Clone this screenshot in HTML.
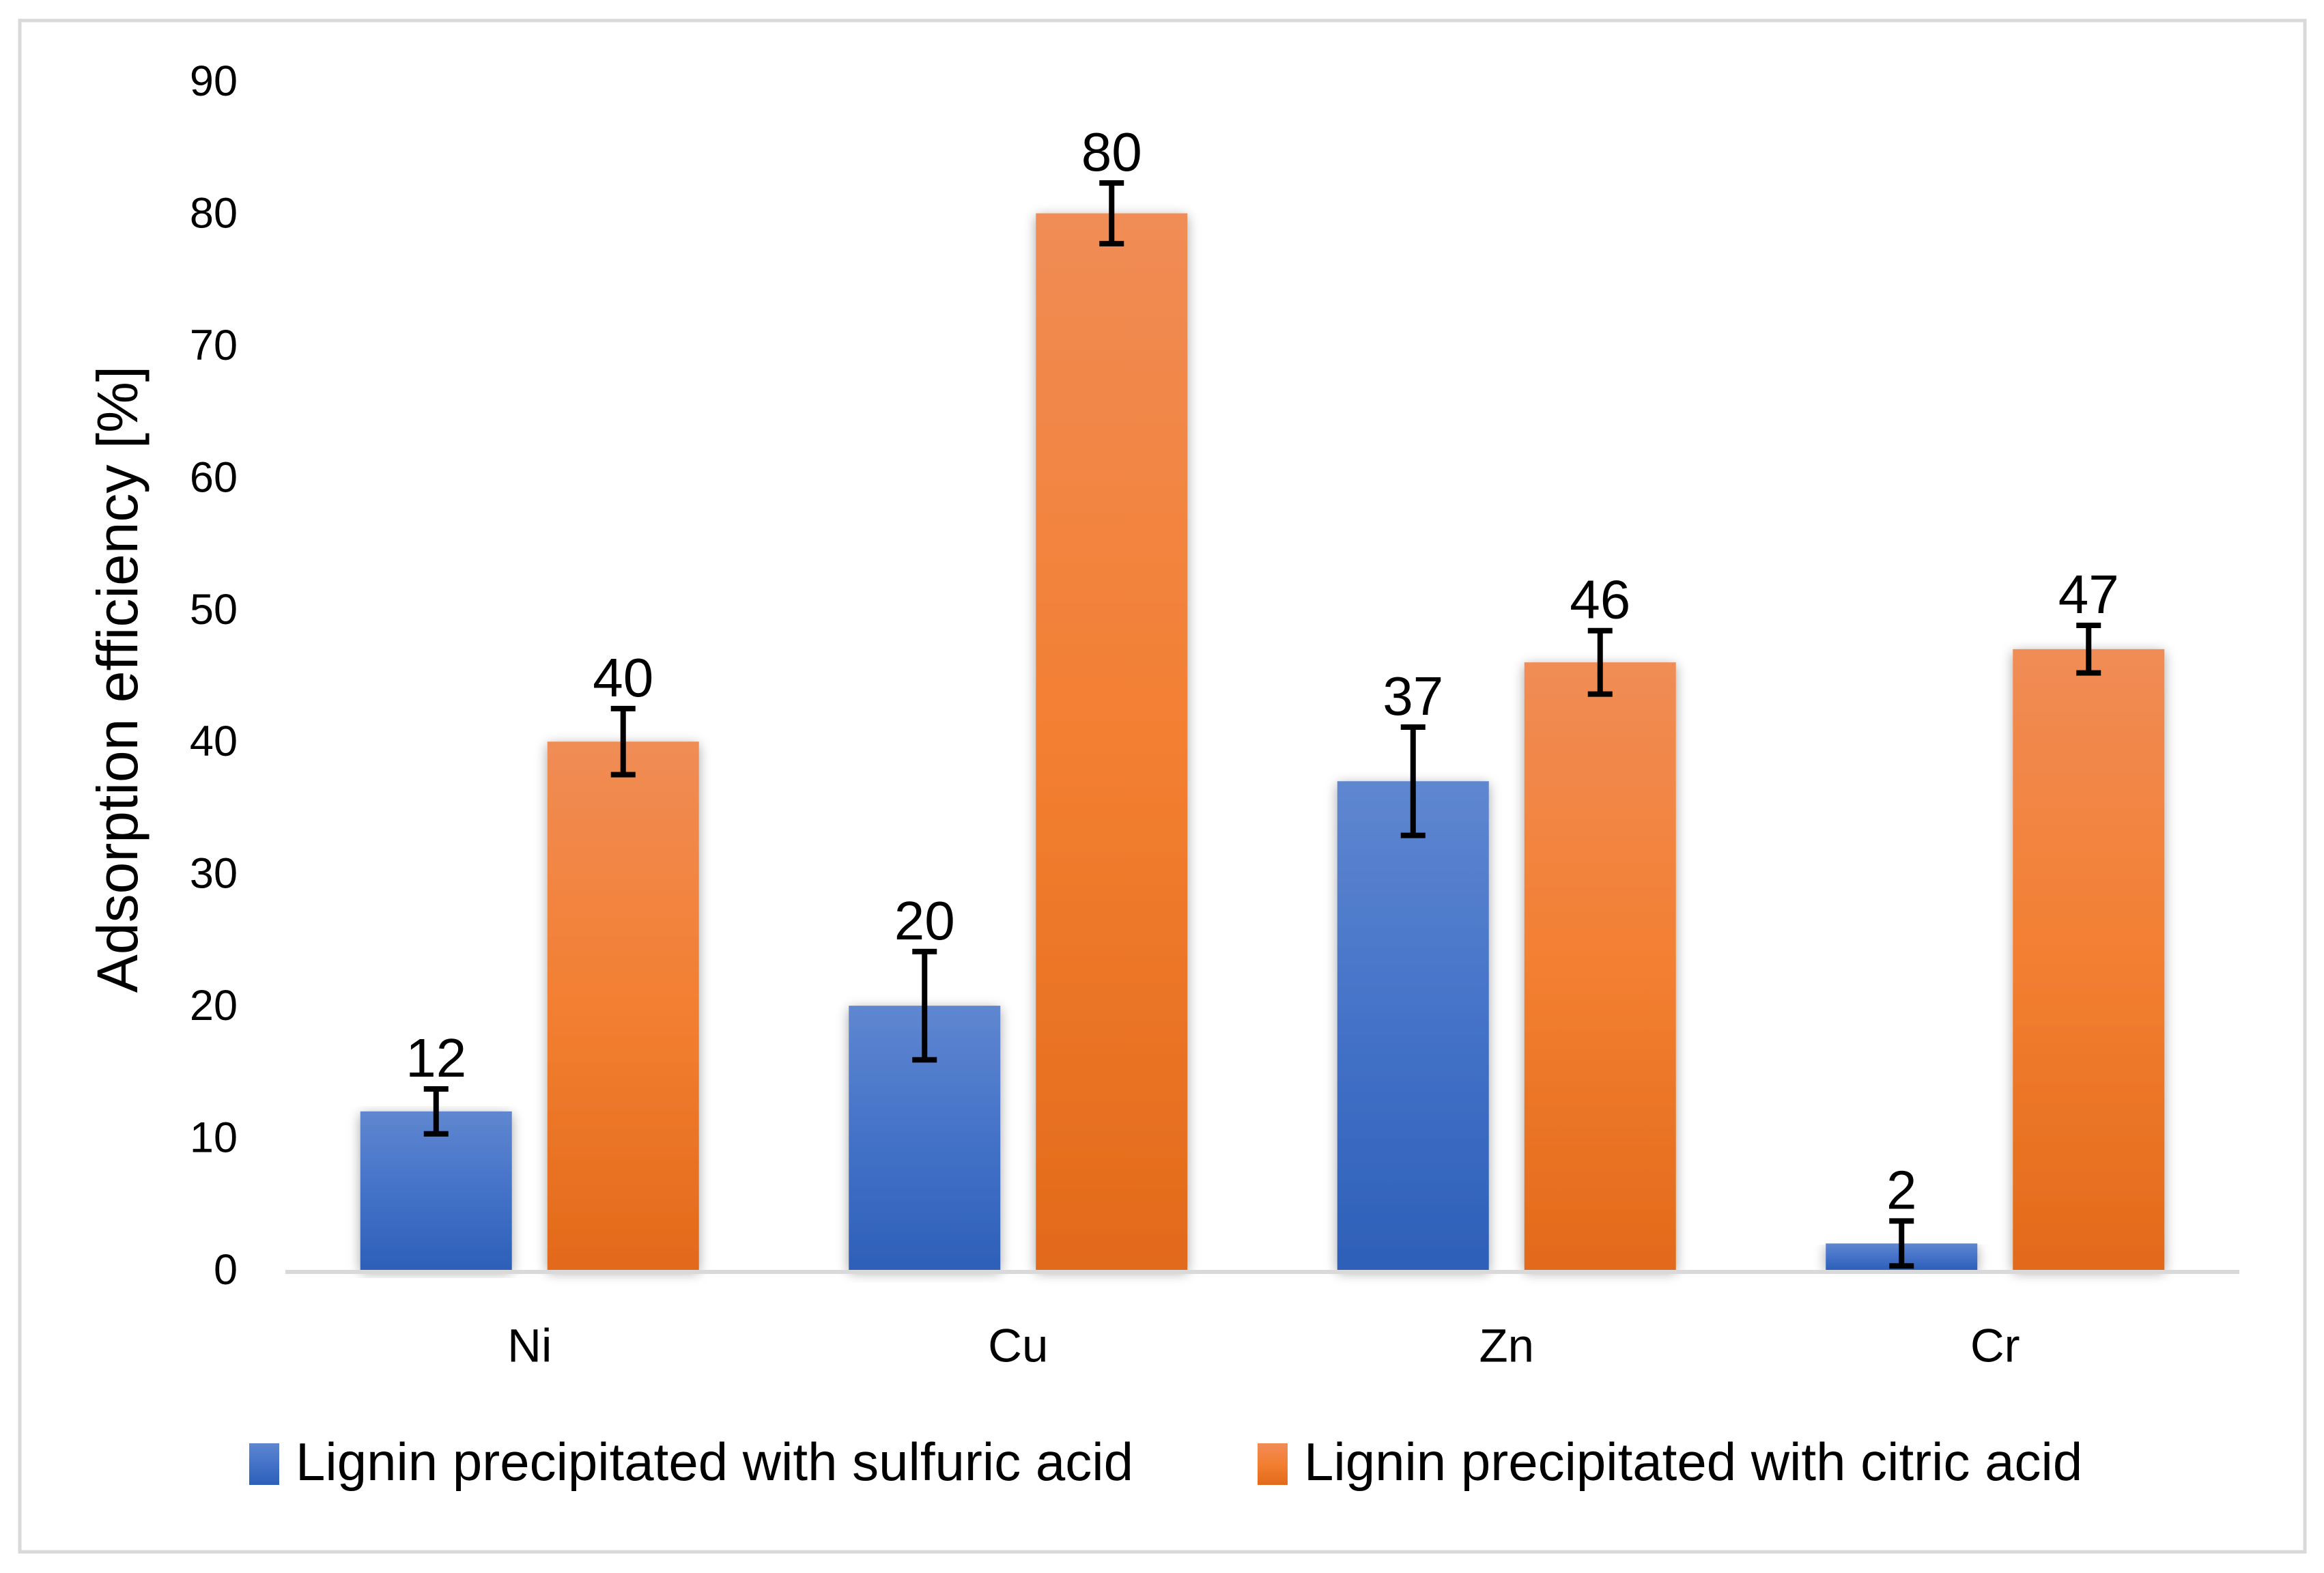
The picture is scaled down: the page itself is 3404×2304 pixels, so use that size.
<!DOCTYPE html>
<html><head><meta charset="utf-8"><style>
html,body{margin:0;padding:0;background:#fff;}
svg{display:block;font-family:"Liberation Sans",sans-serif;}
</style></head><body>
<svg id="chart" width="3404" height="2304" viewBox="0 0 3404 2304" xmlns="http://www.w3.org/2000/svg">
<defs>
<linearGradient id="gBlue" x1="0" y1="0" x2="0" y2="1"><stop offset="0" stop-color="#5f87d0"/><stop offset="0.5" stop-color="#4472c8"/><stop offset="1" stop-color="#2d60b8"/></linearGradient>
<linearGradient id="gOrange" x1="0" y1="0" x2="0" y2="1"><stop offset="0" stop-color="#f08c55"/><stop offset="0.5" stop-color="#f37f32"/><stop offset="1" stop-color="#e26a1a"/></linearGradient>
<filter id="sh" x="-20%" y="-5%" width="140%" height="110%"><feGaussianBlur in="SourceAlpha" stdDeviation="9"/><feOffset dx="0" dy="4"/><feComponentTransfer><feFuncA type="linear" slope="0.35"/></feComponentTransfer><feMerge><feMergeNode/><feMergeNode in="SourceGraphic"/></feMerge></filter>
</defs>
<rect x="29" y="30" width="3347" height="2243" fill="#fff" stroke="#d9d9d9" stroke-width="5"/>
<g id="yticks"></g>
<g id="bars"></g>
<g id="errs"></g>
<g id="labels"></g>
<g id="cats"></g>
<text x="172" y="995" font-size="84" text-anchor="middle" transform="rotate(-90 172 995)" dominant-baseline="central" fill="#000">Adsorption efficiency [%]</text>
<g>
<rect x="365" y="2114" width="44" height="61" fill="url(#gBlue)"/>
<text x="433" y="2168" font-size="78" fill="#000">Lignin precipitated with sulfuric acid</text>
<rect x="1842" y="2114" width="44" height="61" fill="url(#gOrange)"/>
<text x="1910" y="2168" font-size="78" fill="#000">Lignin precipitated with citric acid</text>
</g>
</svg>
<script>
const categories = ["Ni","Cu","Zn","Cr"];
const sulfuric = [12,20,37,2];
const citric = [40,80,46,47];
const sulfuricErr = [1.7,4.1,4.1,1.7];
const citricErr = [2.5,2.3,2.4,1.8];
const yTicks = [0,10,20,30,40,50,60,70,80,90];

const NS="http://www.w3.org/2000/svg";
const plotL=418, plotR=3280, y0=1860, y90=119;
const yScale=v=>y0-(v/90)*(y0-y90);
const catW=(plotR-plotL)/categories.length;
const barW=222, gap=52;
function el(tag,attrs,parent,txt){const e=document.createElementNS(NS,tag);for(const k in attrs)e.setAttribute(k,attrs[k]);if(txt!==undefined)e.textContent=txt;parent.appendChild(e);return e;}
const gT=document.getElementById('yticks'),gB=document.getElementById('bars'),gE=document.getElementById('errs'),gL=document.getElementById('labels'),gC=document.getElementById('cats');
yTicks.forEach(t=>{
  const tx=el('text',{x:348,y:yScale(t),'font-size':63,'text-anchor':'end','dominant-baseline':'central',fill:'#000'},gT,String(t));
  
  
});
const series=[{vals:sulfuric,errs:sulfuricErr,fill:'url(#gBlue)',name:'sulfuric'},{vals:citric,errs:citricErr,fill:'url(#gOrange)',name:'citric'}];
categories.forEach((c,i)=>{
  const cx=plotL+catW*(i+0.5);
  series.forEach((s,j)=>{
    const x=j===0?cx-gap/2-barW:cx+gap/2;
    const v=s.vals[i], top=yScale(v);
    const r=el('rect',{x:x,y:top,width:barW,height:y0-top,fill:s.fill,filter:'url(#sh)'},gB);
    
    
    const bx=x+barW/2, et=yScale(v+s.errs[i]), eb=yScale(Math.max(0,v-s.errs[i]));
    const eg=el('g',{stroke:'#000','stroke-width':8},gE);
    
    
    el('line',{x1:bx,y1:et,x2:bx,y2:eb},eg);
    el('line',{x1:bx-18,y1:et,x2:bx+18,y2:et},eg);
    el('line',{x1:bx-18,y1:eb,x2:bx+18,y2:eb},eg);
    const lb=el('text',{x:bx,y:et-18,'font-size':80,'text-anchor':'middle',fill:'#000'},gL,String(v));
    
    
  });
  const ct=el('text',{x:cx,y:1971,'font-size':69,'text-anchor':'middle','dominant-baseline':'central',fill:'#000'},gC,c);
  
  
});
const ax=el('line',{x1:plotL,y1:y0+3,x2:plotR,y2:y0+3,stroke:'#d9d9d9','stroke-width':6},document.getElementById('chart'));


</script>
</body></html>
